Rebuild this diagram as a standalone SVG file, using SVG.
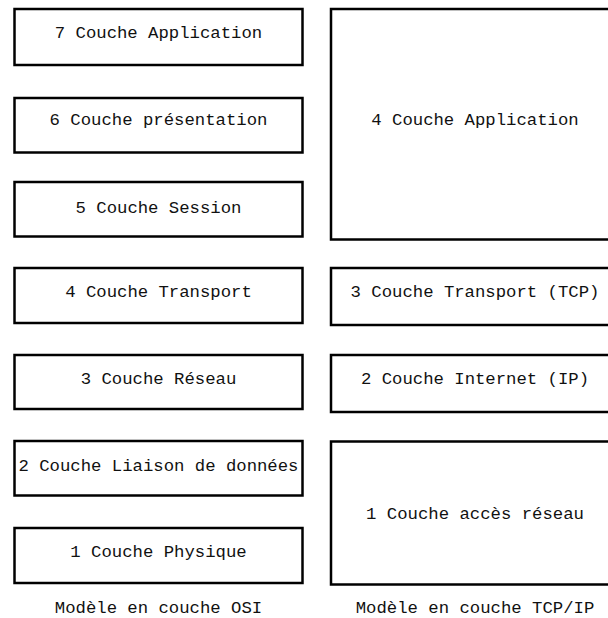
<svg xmlns="http://www.w3.org/2000/svg" width="608" height="618" viewBox="0 0 608 618">
<style>
.box{fill:#fff;stroke:#000;stroke-width:2.5}
.lbl{font-family:"Liberation Mono","DejaVu Sans Mono",monospace;font-size:17.3px;fill:#111;text-anchor:middle}
</style>
<rect width="608" height="618" fill="#fff"/>
<g id="osi">
<g id="osi7"><rect class="box" x="14.5" y="9" width="288" height="56"/><text class="lbl" x="158.5" y="38">7 Couche Application</text></g>
<g id="osi6"><rect class="box" x="14.5" y="98" width="288" height="54.5"/><text class="lbl" x="158.5" y="124.5">6 Couche présentation</text></g>
<g id="osi5"><rect class="box" x="14.5" y="182" width="288" height="54.5"/><text class="lbl" x="158.5" y="213">5 Couche Session</text></g>
<g id="osi4"><rect class="box" x="14.5" y="268" width="288" height="55"/><text class="lbl" x="158.5" y="297">4 Couche Transport</text></g>
<g id="osi3"><rect class="box" x="14.5" y="355" width="288" height="54"/><text class="lbl" x="158.5" y="384">3 Couche Réseau</text></g>
<g id="osi2"><rect class="box" x="14.5" y="441" width="288" height="54.5"/><text class="lbl" x="158.5" y="470.5">2 Couche Liaison de données</text></g>
<g id="osi1"><rect class="box" x="14.5" y="528" width="288" height="55"/><text class="lbl" x="158.5" y="557">1 Couche Physique</text></g>
<text id="osi-caption" class="lbl" x="158.5" y="613">Modèle en couche OSI</text>
</g>
<g id="tcpip">
<g id="tcp4"><rect class="box" x="331" y="9" width="288" height="230.5"/><text class="lbl" x="475" y="124.5">4 Couche Application</text></g>
<g id="tcp3"><rect class="box" x="331" y="268" width="288" height="57"/><text class="lbl" x="475" y="297">3 Couche Transport (TCP)</text></g>
<g id="tcp2"><rect class="box" x="331" y="355" width="288" height="57"/><text class="lbl" x="475" y="384">2 Couche Internet (IP)</text></g>
<g id="tcp1"><rect class="box" x="331" y="441.5" width="288" height="143"/><text class="lbl" x="475" y="519">1 Couche accès réseau</text></g>
<text id="tcp-caption" class="lbl" x="475" y="613">Modèle en couche TCP/IP</text>
</g>
<g id="connectors"/>
</svg>
